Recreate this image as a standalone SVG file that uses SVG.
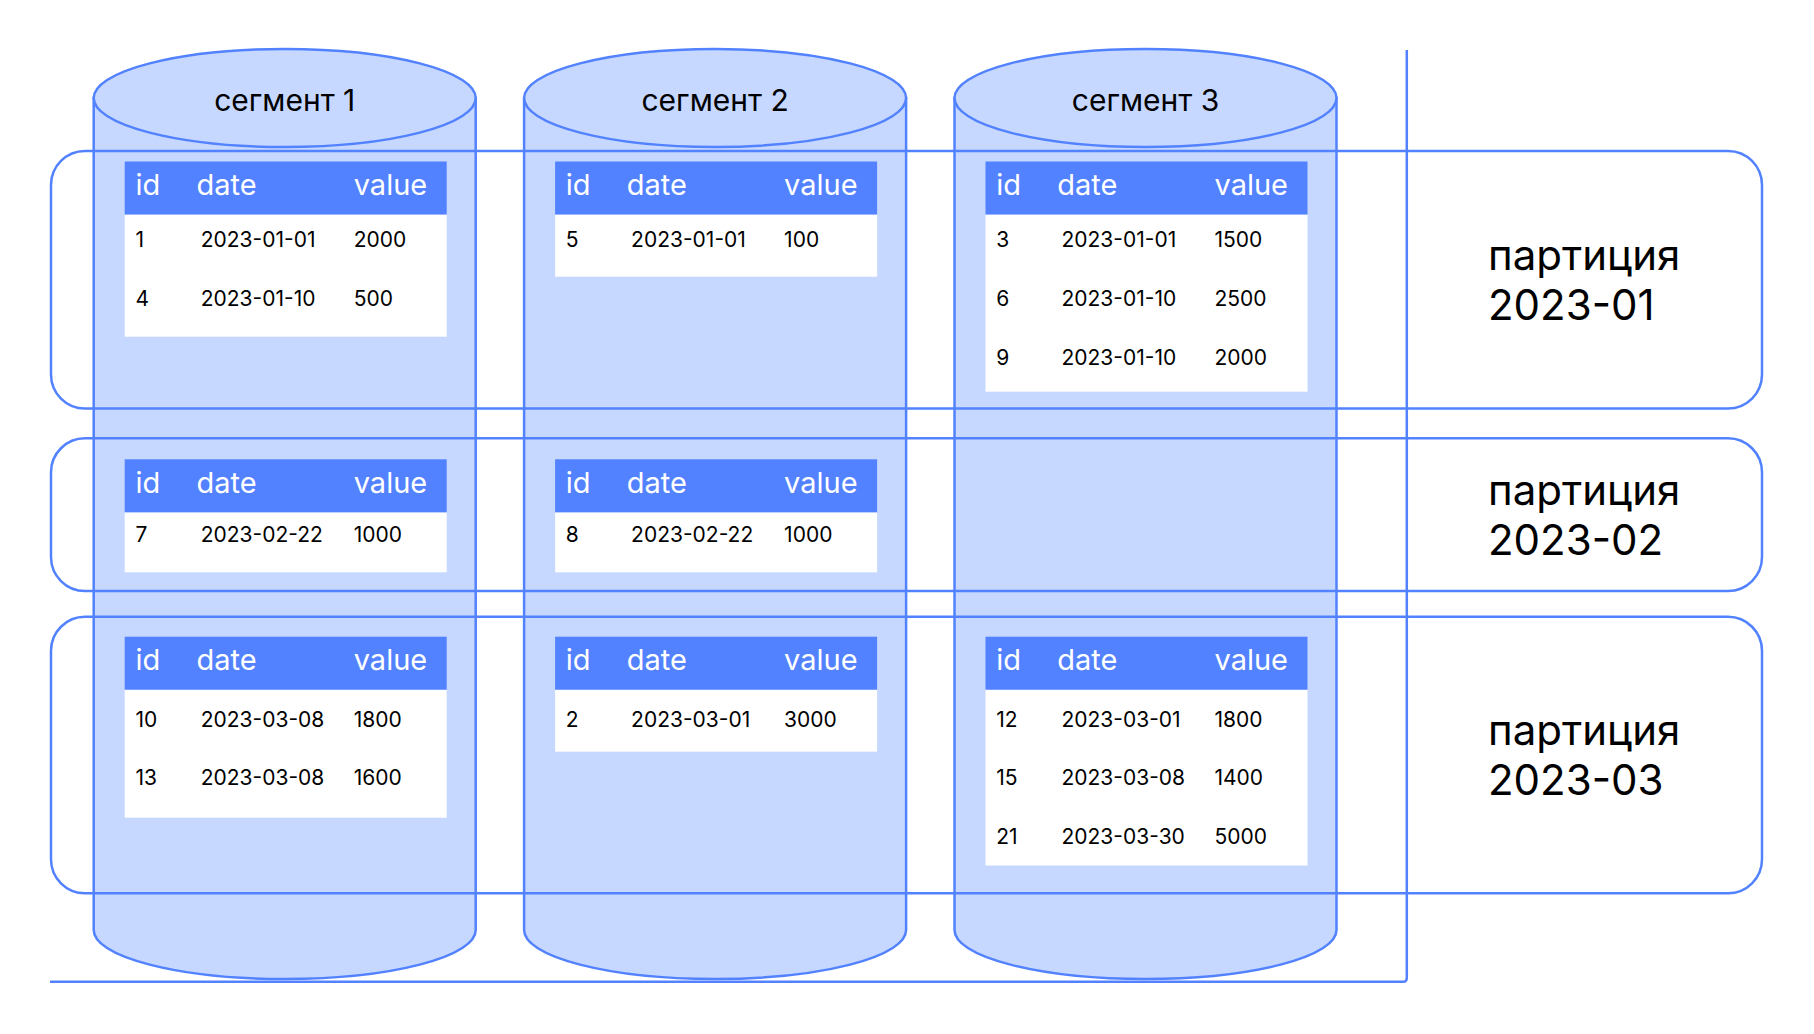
<svg xmlns="http://www.w3.org/2000/svg" width="1814" height="1034" viewBox="0 0 1814 1034">
<style>
.ln{fill:none;stroke:#5282FF;stroke-width:2.5}
.cyl{fill:#C6D8FF;stroke:#5282FF;stroke-width:2.5}
.hd{fill:#5282FF}
.bd{fill:#FFFFFF}
.ht{font-family:Inter,"Noto Sans",sans-serif;font-size:29px;fill:#FFFFFF}
.rt{font-family:Inter,"Noto Sans",sans-serif;font-size:21px;fill:#000000}
.seg{font-family:Inter,"Noto Sans",sans-serif;font-size:30px;fill:#000000;text-anchor:middle}
.pt{font-family:Inter,"Noto Sans",sans-serif;font-size:42px;fill:#000000}
</style>
<rect x="0" y="0" width="1814" height="1034" fill="#FFFFFF"/>

<g id="segment1">
<path class="cyl" d="M93.7,98 L93.7,930 A191,49 0 0 0 475.7,930 L475.7,98 Z"/>
<ellipse class="cyl" cx="284.7" cy="98" rx="191" ry="49"/>
<text class="seg" x="284.7" y="110.7">сегмент 1</text>
</g>
<g id="segment2">
<path class="cyl" d="M524.1,98 L524.1,930 A191,49 0 0 0 906.1,930 L906.1,98 Z"/>
<ellipse class="cyl" cx="715.1" cy="98" rx="191" ry="49"/>
<text class="seg" x="715.1" y="110.7">сегмент 2</text>
</g>
<g id="segment3">
<path class="cyl" d="M954.5,98 L954.5,930 A191,49 0 0 0 1336.5,930 L1336.5,98 Z"/>
<ellipse class="cyl" cx="1145.5" cy="98" rx="191" ry="49"/>
<text class="seg" x="1145.5" y="110.7">сегмент 3</text>
</g>

<g id="connectors">
<path class="ln" d="M50,981.7 H1403 Q1406.8,981.7 1406.8,977.9 V50"/>
</g>

<g id="partition1">
<rect class="ln" x="51" y="151" width="1711" height="257.5" rx="34" ry="34"/>
<text class="pt" x="1488" y="270">партиция</text>
<text class="pt" x="1488" y="320">2023-01</text>
</g>
<g id="partition2">
<rect class="ln" x="51" y="438.3" width="1711" height="152.7" rx="34" ry="34"/>
<text class="pt" x="1488" y="505">партиция</text>
<text class="pt" x="1488" y="555">2023-02</text>
</g>
<g id="partition3">
<rect class="ln" x="51" y="616.8" width="1711" height="276.5" rx="34" ry="34"/>
<text class="pt" x="1488" y="745">партиция</text>
<text class="pt" x="1488" y="794.5">2023-03</text>
</g>

<!-- partition 1 tables -->
<g id="table-s1-p1">
<rect class="bd" x="124.7" y="214.5" width="322" height="122.2"/>
<rect class="hd" x="124.7" y="161.5" width="322" height="53"/>
<text class="ht" x="135.4" y="195">id</text><text class="ht" x="196.4" y="195">date</text><text class="ht" x="353.7" y="195">value</text>
<text class="rt" x="135.4" y="246.7">1</text><text class="rt" x="200.7" y="246.7">2023-01-01</text><text class="rt" x="353.7" y="246.7">2000</text>
<text class="rt" x="135.4" y="306">4</text><text class="rt" x="200.7" y="306">2023-01-10</text><text class="rt" x="353.7" y="306">500</text>
</g>
<g id="table-s2-p1">
<rect class="bd" x="555.1" y="214.5" width="322" height="62.2"/>
<rect class="hd" x="555.1" y="161.5" width="322" height="53"/>
<text class="ht" x="565.8" y="195">id</text><text class="ht" x="626.8" y="195">date</text><text class="ht" x="784.1" y="195">value</text>
<text class="rt" x="565.8" y="246.7">5</text><text class="rt" x="631.1" y="246.7">2023-01-01</text><text class="rt" x="784.1" y="246.7">100</text>
</g>
<g id="table-s3-p1">
<rect class="bd" x="985.5" y="214.5" width="322" height="177.2"/>
<rect class="hd" x="985.5" y="161.5" width="322" height="53"/>
<text class="ht" x="996.2" y="195">id</text><text class="ht" x="1057.2" y="195">date</text><text class="ht" x="1214.5" y="195">value</text>
<text class="rt" x="996.2" y="246.7">3</text><text class="rt" x="1061.5" y="246.7">2023-01-01</text><text class="rt" x="1214.5" y="246.7">1500</text>
<text class="rt" x="996.2" y="306">6</text><text class="rt" x="1061.5" y="306">2023-01-10</text><text class="rt" x="1214.5" y="306">2500</text>
<text class="rt" x="996.2" y="364.5">9</text><text class="rt" x="1061.5" y="364.5">2023-01-10</text><text class="rt" x="1214.5" y="364.5">2000</text>
</g>

<!-- partition 2 tables -->
<g id="table-s1-p2">
<rect class="bd" x="124.7" y="512.3" width="322" height="60"/>
<rect class="hd" x="124.7" y="459.3" width="322" height="53"/>
<text class="ht" x="135.4" y="492.8">id</text><text class="ht" x="196.4" y="492.8">date</text><text class="ht" x="353.7" y="492.8">value</text>
<text class="rt" x="135.4" y="541.7">7</text><text class="rt" x="200.7" y="541.7">2023-02-22</text><text class="rt" x="353.7" y="541.7">1000</text>
</g>
<g id="table-s2-p2">
<rect class="bd" x="555.1" y="512.3" width="322" height="60"/>
<rect class="hd" x="555.1" y="459.3" width="322" height="53"/>
<text class="ht" x="565.8" y="492.8">id</text><text class="ht" x="626.8" y="492.8">date</text><text class="ht" x="784.1" y="492.8">value</text>
<text class="rt" x="565.8" y="541.7">8</text><text class="rt" x="631.1" y="541.7">2023-02-22</text><text class="rt" x="784.1" y="541.7">1000</text>
</g>

<!-- partition 3 tables -->
<g id="table-s1-p3">
<rect class="bd" x="124.7" y="689.6" width="322" height="128.1"/>
<rect class="hd" x="124.7" y="636.7" width="322" height="53"/>
<text class="ht" x="135.4" y="670.2">id</text><text class="ht" x="196.4" y="670.2">date</text><text class="ht" x="353.7" y="670.2">value</text>
<text class="rt" x="135.4" y="726.5">10</text><text class="rt" x="200.7" y="726.5">2023-03-08</text><text class="rt" x="353.7" y="726.5">1800</text>
<text class="rt" x="135.4" y="785">13</text><text class="rt" x="200.7" y="785">2023-03-08</text><text class="rt" x="353.7" y="785">1600</text>
</g>
<g id="table-s2-p3">
<rect class="bd" x="555.1" y="689.6" width="322" height="62.1"/>
<rect class="hd" x="555.1" y="636.7" width="322" height="53"/>
<text class="ht" x="565.8" y="670.2">id</text><text class="ht" x="626.8" y="670.2">date</text><text class="ht" x="784.1" y="670.2">value</text>
<text class="rt" x="565.8" y="726.5">2</text><text class="rt" x="631.1" y="726.5">2023-03-01</text><text class="rt" x="784.1" y="726.5">3000</text>
</g>
<g id="table-s3-p3">
<rect class="bd" x="985.5" y="689.6" width="322" height="175.9"/>
<rect class="hd" x="985.5" y="636.7" width="322" height="53"/>
<text class="ht" x="996.2" y="670.2">id</text><text class="ht" x="1057.2" y="670.2">date</text><text class="ht" x="1214.5" y="670.2">value</text>
<text class="rt" x="996.2" y="726.5">12</text><text class="rt" x="1061.5" y="726.5">2023-03-01</text><text class="rt" x="1214.5" y="726.5">1800</text>
<text class="rt" x="996.2" y="785">15</text><text class="rt" x="1061.5" y="785">2023-03-08</text><text class="rt" x="1214.5" y="785">1400</text>
<text class="rt" x="996.2" y="843.5">21</text><text class="rt" x="1061.5" y="843.5">2023-03-30</text><text class="rt" x="1214.5" y="843.5">5000</text>
</g>
</svg>
